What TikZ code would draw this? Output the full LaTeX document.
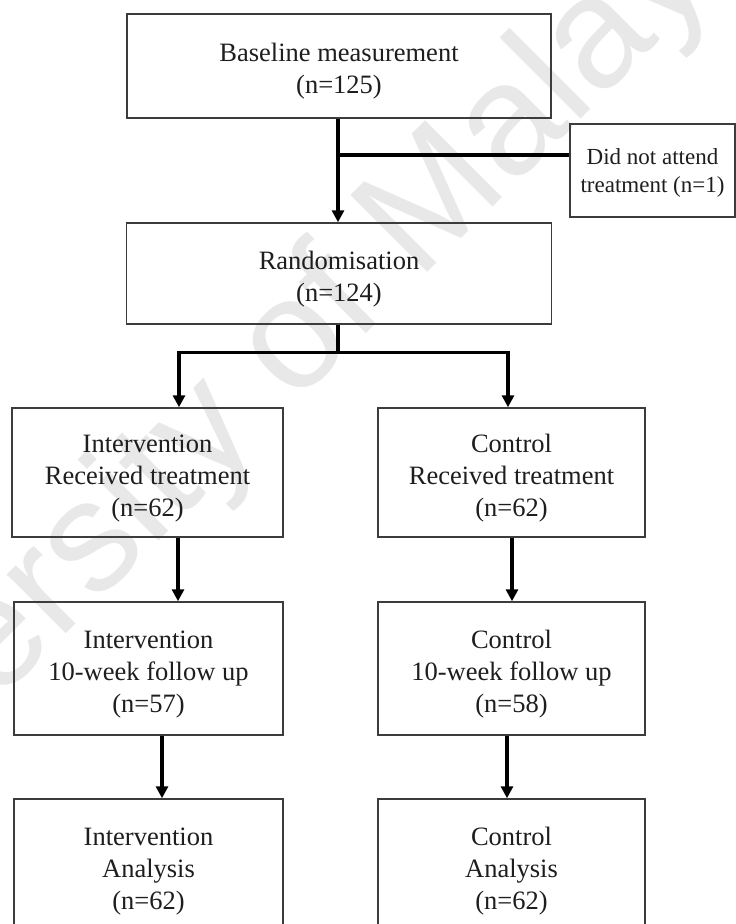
\documentclass[tikz,border=0pt]{standalone}
\usepackage{fontspec}
\setmainfont{Liberation Serif}
\newfontfamily\markfont{Liberation Sans}
\usetikzlibrary{arrows.meta}
\definecolor{ink}{HTML}{1E1E1E}
\definecolor{frame}{HTML}{3C3C3C}
\definecolor{markgray}{HTML}{E8E8E8}
% invisible struts that lower the first text line inside a box
\newcommand{\tallline}{\rule{0pt}{29pt}}
\newcommand{\sideline}{\rule{0pt}{21pt}}
\begin{document}
\begin{tikzpicture}[x=1pt,y=-1pt,
  box/.style={draw=frame, line width=1.5pt, text=ink, align=center, inner sep=0pt,
    font=\fontsize{26.5}{32}\selectfont},
  sidebox/.style={box, font=\fontsize{23}{28}\selectfont},
  link/.style={line width=3.5pt, draw=black},
  flow/.style={link, -{Triangle[width=12pt,length=12pt]}}]
\path[use as bounding box, clip] (0,0) rectangle (736,924);
\fill[white] (0,0) rectangle (736,924);

% background watermark
\node[text=markgray, rotate=45, anchor=base west, inner sep=0pt,
  font=\markfont\fontsize{158}{158}\selectfont] (wmark) at (-227,927) {University of Malaya};

% boxes
\node[box, minimum width=424pt, minimum height=104pt] (base) at (339,66)
  {\tallline Baseline measurement\\(n=125)};
\node[sidebox, minimum width=165pt, minimum height=93pt] (side) at (652.5,170.5)
  {\sideline Did not attend\\treatment (n=1)};
\node[box, minimum width=425pt, minimum height=101pt] (rand) at (339,273.5)
  {\tallline Randomisation\\(n=124)};

\node[box, minimum width=271pt, minimum height=129pt] (intrec) at (147.5,472.5)
  {\tallline Intervention\\Received treatment\\(n=62)};
\node[box, minimum width=267pt, minimum height=129pt] (conrec) at (511.5,472.5)
  {\tallline Control\\Received treatment\\(n=62)};

\node[box, minimum width=269pt, minimum height=133pt] (intfu) at (148.5,668.5)
  {\tallline Intervention\\10-week follow up\\(n=57)};
\node[box, minimum width=267pt, minimum height=133pt] (confu) at (511.5,668.5)
  {\tallline Control\\10-week follow up\\(n=58)};

\node[box, minimum width=269pt, minimum height=133pt] (intan) at (148.5,865.5)
  {\tallline Intervention\\Analysis\\(n=62)};
\node[box, minimum width=267pt, minimum height=133pt] (conan) at (511.5,865.5)
  {\tallline Control\\Analysis\\(n=62)};

% connector columns
\coordinate (exit) at (338,155);
\coordinate (bl) at (179,352.5);
\coordinate (br) at (508,352.5);
\coordinate (la) at (178,0);
\coordinate (ra) at (512,0);
\coordinate (lb) at (162,0);
\coordinate (rb) at (507,0);
\coordinate (ma) at (338,0);

% connectors
\draw[flow] (base.south -| ma) -- (rand.north -| ma);
\draw[link] (exit) -- (exit -| side.west);
\draw[flow] (rand.south -| ma) |- (bl) -- (bl |- intrec.north);
\draw[flow] (rand.south -| ma) |- (br) -- (br |- conrec.north);
\draw[flow] (intrec.south -| la) -- (intfu.north -| la);
\draw[flow] (conrec.south -| ra) -- (confu.north -| ra);
\draw[flow] (intfu.south -| lb) -- (intan.north -| lb);
\draw[flow] (confu.south -| rb) -- (conan.north -| rb);
\end{tikzpicture}
\end{document}
